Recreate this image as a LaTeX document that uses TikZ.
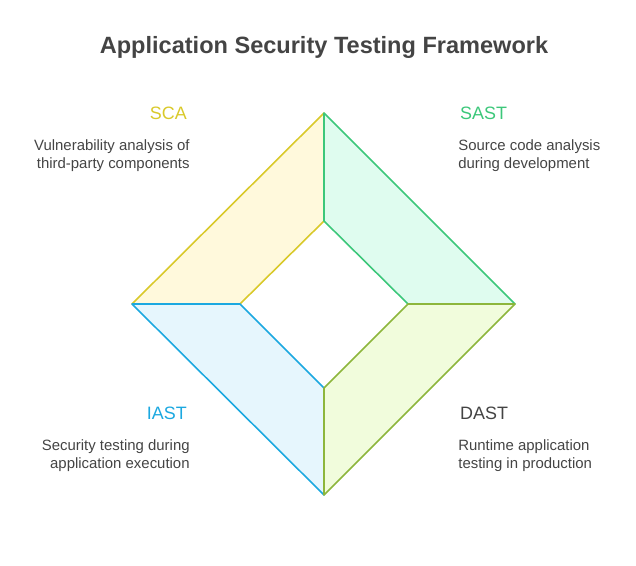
\documentclass[tikz,border=0pt]{standalone}
\usepackage{fontspec}
\setmainfont{Liberation Sans}
\definecolor{scaline}{HTML}{D9C92A}\definecolor{scafill}{HTML}{FFF9DC}
\definecolor{sastline}{HTML}{3CC77A}\definecolor{sastfill}{HTML}{DFFCEF}
\definecolor{dastline}{HTML}{8DB63C}\definecolor{dastfill}{HTML}{F1FCDC}
\definecolor{iastline}{HTML}{1BA8E0}\definecolor{iastfill}{HTML}{E6F6FD}
\definecolor{txt}{HTML}{444444}
\tikzset{
  head/.style={font=\fontsize{10.2}{12}\selectfont},
  desc/.style={font=\fontsize{8.5}{10.3}\selectfont, text=txt, inner sep=0pt},
  part/.style={line width=0.9pt, line join=round}
}
\begin{document}
\begin{tikzpicture}[x=0.02cm,y=-0.02cm]
		\useasboundingbox (0,0) rectangle (636,565);
		% outer and inner corners
		\coordinate (ot) at (324,113); \coordinate (or) at (515,304);
		\coordinate (ob) at (324,495); \coordinate (ol) at (132,304);
		\coordinate (it) at (324,221); \coordinate (ir) at (408,304);
		\coordinate (ib) at (324,388); \coordinate (il) at (240,304);
		\filldraw[part, draw = scaline, fill = scafill] (ol)--(ot)--(it)--(il)--cycle;
		\filldraw[part, draw = sastline, fill = sastfill] (ot)--(or)--(ir)--(it)--cycle;
		\filldraw[part, draw = iastline, fill = iastfill] (ol)--(ob)--(ib)--(il)--cycle;
		\filldraw[part, draw = dastline, fill = dastfill] (or)--(ob)--(ib)--(ir)--cycle;
		\node[font=\bfseries\fontsize{13.4}{15}\selectfont, text=txt] (title) at (324,47) {Application Security Testing Framework};
		\node[head, text = scaline, anchor = east] (sca) at (193,113) {SCA};
		\node[desc, anchor = north east, align = right] (scad) at (190,139) {Vulnerability analysis of\\third-party components};
		\node[head, text = sastline, anchor = west] (sast) at (454,113) {SAST};
		\node[desc, anchor = north west, align = left] (sastd) at (458,139) {Source code analysis\\during development};
		\node[head, text = iastline, anchor = east] (iast) at (193,413) {IAST};
		\node[desc, anchor = north east, align = right] (iastd) at (190,439) {Security testing during\\application execution};
		\node[head, text = txt, anchor = west] (dast) at (454,413) {DAST};
		\node[desc, anchor = north west, align = left] (dastd) at (458,439) {Runtime application\\testing in production};
\end{tikzpicture}
\end{document}
